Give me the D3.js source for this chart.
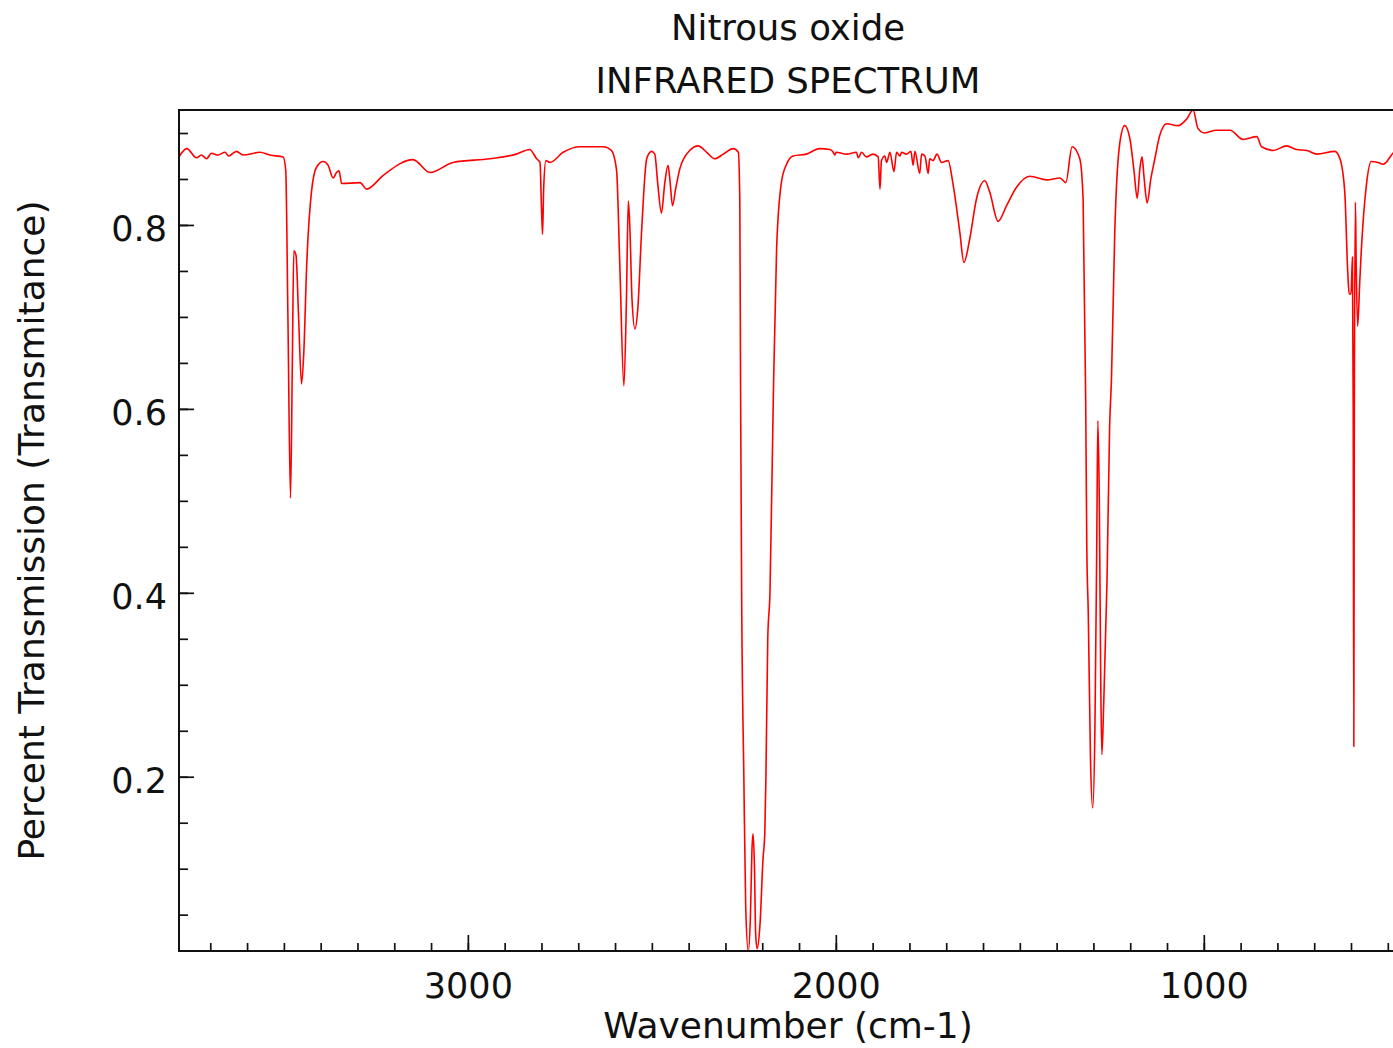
<!DOCTYPE html>
<html>
<head>
<meta charset="utf-8">
<script src="https://cdn.jsdelivr.net/npm/d3@7"></script>
<style>
  body { margin: 0; background: #fff; }
  svg { display: block; font-family: "DejaVu Sans", sans-serif; }
</style>
</head>
<body>
<svg id="svg" width="1393" height="1048"></svg>
<script>
// spectrum (wavenumber cm-1, transmittance)
const wavenumber = [
  3785, 3764, 3737, 3724, 3710, 3697, 3679, 3660, 3650, 3629, 3611, 3565, 3538, 3502,
  3495, 3489, 3482, 3477, 3473, 3467, 3460, 3452, 3446, 3438, 3425, 3411, 3393, 3380,
  3366, 3357, 3350, 3343, 3293, 3275, 3230, 3149, 3103, 3040, 2940, 2868, 2832, 2813,
  2804, 2800, 2797, 2794, 2788, 2777, 2741, 2696, 2632, 2610, 2596, 2587, 2576, 2569,
  2564, 2560, 2554, 2546, 2538, 2528, 2514, 2501, 2492, 2484, 2474, 2465, 2456, 2450,
  2444, 2435, 2424, 2397, 2374, 2351, 2329, 2306, 2279, 2265, 2261, 2259, 2256, 2250,
  2245, 2238, 2232, 2228, 2225, 2221, 2218, 2214, 2206, 2198, 2193, 2190, 2185, 2179,
  2170, 2161, 2148, 2134, 2116, 2080, 2044, 2016, 2007, 2003, 1999, 1971, 1944, 1939,
  1930, 1917, 1899, 1885, 1880, 1876, 1867, 1862, 1853, 1842, 1835, 1826, 1821, 1808,
  1796, 1790, 1785, 1772, 1767, 1758, 1749, 1745, 1736, 1725, 1713, 1695, 1681, 1663,
  1652, 1636, 1618, 1595, 1582, 1559, 1536, 1509, 1473, 1427, 1391, 1375, 1358, 1337,
  1328, 1321, 1318, 1314, 1308, 1302, 1296, 1291, 1288, 1284, 1280, 1277, 1272, 1263,
  1256, 1251, 1242, 1228, 1215, 1201, 1190, 1181, 1174, 1168, 1162, 1154, 1144, 1133,
  1120, 1101, 1070, 1047, 1029, 1016, 998, 966, 929, 893, 856, 843, 811, 775,
  748, 720, 693, 644, 630, 617, 609, 605, 600, 596, 594, 592.3, 591, 588,
  586, 582, 576, 572, 558, 545, 527, 513, 486, 476
];
const transmittance = [
  0.874, 0.883, 0.873, 0.876, 0.872, 0.878, 0.876, 0.879, 0.875, 0.880, 0.876, 0.879, 0.876, 0.874,
  0.860, 0.700, 0.503, 0.650, 0.772, 0.767, 0.700, 0.627, 0.660, 0.756, 0.836, 0.863, 0.869, 0.865,
  0.851, 0.857, 0.859, 0.845, 0.846, 0.839, 0.854, 0.871, 0.857, 0.868, 0.872, 0.877, 0.882, 0.872,
  0.868, 0.820, 0.790, 0.840, 0.870, 0.868, 0.879, 0.885, 0.885, 0.881, 0.860, 0.756, 0.625, 0.720,
  0.826, 0.800, 0.720, 0.687, 0.710, 0.792, 0.872, 0.880, 0.877, 0.845, 0.813, 0.845, 0.865, 0.845,
  0.821, 0.840, 0.861, 0.881, 0.886, 0.879, 0.872, 0.877, 0.883, 0.879, 0.828, 0.632, 0.400, 0.200,
  0.060, 0.0105, 0.050, 0.120, 0.138, 0.100, 0.030, 0.013, 0.040, 0.110, 0.140, 0.200, 0.350, 0.400,
  0.610, 0.774, 0.846, 0.866, 0.875, 0.877, 0.883, 0.882, 0.879, 0.876, 0.879, 0.877, 0.879, 0.873,
  0.879, 0.874, 0.877, 0.874, 0.839, 0.870, 0.875, 0.868, 0.879, 0.858, 0.879, 0.875, 0.879, 0.877,
  0.880, 0.865, 0.880, 0.856, 0.877, 0.875, 0.856, 0.872, 0.870, 0.877, 0.868, 0.870, 0.843, 0.792,
  0.759, 0.785, 0.828, 0.848, 0.836, 0.804, 0.821, 0.841, 0.853, 0.849, 0.851, 0.846, 0.885, 0.872,
  0.828, 0.610, 0.450, 0.378, 0.220, 0.166, 0.250, 0.450, 0.587, 0.500, 0.300, 0.224, 0.280, 0.414,
  0.580, 0.632, 0.792, 0.890, 0.908, 0.894, 0.860, 0.829, 0.860, 0.874, 0.850, 0.824, 0.850, 0.872,
  0.897, 0.910, 0.908, 0.915, 0.925, 0.905, 0.900, 0.903, 0.903, 0.893, 0.896, 0.885, 0.881, 0.886,
  0.882, 0.881, 0.877, 0.880, 0.872, 0.836, 0.750, 0.725, 0.725, 0.765, 0.600, 0.233, 0.600, 0.825,
  0.760, 0.690, 0.740, 0.772, 0.844, 0.869, 0.868, 0.866, 0.878, 0.882
];
const xMajorTicks = [3000, 2000, 1000];
const xMinorTicks = d3.range(3700, 400, -100);
const yMajorTicks = [0.2, 0.4, 0.6, 0.8];
const yMinorTicks = d3.range(1, 19).map(i => i * 0.05);

const titleLines = ["Nitrous oxide", "INFRARED SPECTRUM"];
const xTitle = "Wavenumber (cm-1)";
const yTitle = "Percent Transmission (Transmitance)";

const plotLeft = 179, plotRight = 1397, plotTop = 110, plotBottom = 951;

const svg = d3.select("#svg");
const x = d3.scaleLinear([3785, 475], [plotLeft, plotRight]);
const y = d3.scaleLinear([0.0105, 0.925], [plotBottom, plotTop]);

const points = wavenumber.map((w, i) => [w, transmittance[i]]);
const line = d3.line().x(d => x(d[0])).y(d => y(d[1])).curve(d3.curveMonotoneX);

svg.append("rect").attr("width", 1393).attr("height", 1048).attr("fill", "#fff");

svg.append("path")
  .datum(points)
  .attr("d", line)
  .attr("fill", "none")
  .attr("stroke", "#ff0000")
  .attr("stroke-width", 1.6)
  .attr("stroke-linejoin", "round");

// minor ticks
svg.append("g").attr("transform", `translate(0,${plotBottom})`)
  .call(d3.axisBottom(x).tickValues(xMinorTicks).tickSize(-8).tickFormat(""))
  .call(g => g.select(".domain").remove());
svg.append("g").attr("transform", `translate(${plotLeft},0)`)
  .call(d3.axisLeft(y).tickValues(yMinorTicks).tickSize(-9).tickFormat(""))
  .call(g => g.select(".domain").remove());

// major ticks + labels
svg.append("g").attr("transform", `translate(0,${plotBottom})`)
  .call(d3.axisBottom(x).tickValues(xMajorTicks).tickSize(-16).tickPadding(22).tickFormat(d3.format("d")))
  .call(g => g.select(".domain").remove());
const yAxis = svg.append("g").attr("transform", `translate(${plotLeft},0)`)
  .call(d3.axisLeft(y).tickValues(yMajorTicks).tickSize(-15).tickPadding(12).tickFormat(d3.format(".1f")))
  .call(g => g.select(".domain").remove());

svg.selectAll(".tick line").attr("stroke", "#111").attr("stroke-width", 1.7);
svg.selectAll(".tick text").attr("font-family", "DejaVu Sans").attr("font-size", 35).attr("fill", "#111");
yAxis.selectAll(".tick text").attr("dy", "0.45em");

svg.append("rect")
  .attr("x", plotLeft).attr("y", plotTop)
  .attr("width", plotRight - plotLeft).attr("height", plotBottom - plotTop)
  .attr("fill", "none").attr("stroke", "#111").attr("stroke-width", 2);

svg.selectAll("text.title").data(titleLines).join("text")
  .attr("class", "title")
  .attr("x", (plotLeft + plotRight) / 2)
  .attr("y", (_, i) => [40, 93][i])
  .attr("text-anchor", "middle")
  .attr("font-size", 35.5)
  .attr("fill", "#111")
  .text(d => d);

svg.append("text")
  .attr("x", (plotLeft + plotRight) / 2).attr("y", 1038)
  .attr("text-anchor", "middle").attr("font-size", 36).attr("fill", "#111")
  .text(xTitle);

svg.append("text")
  .attr("transform", `translate(44,${(plotTop + plotBottom) / 2}) rotate(-90)`)
  .attr("text-anchor", "middle").attr("font-size", 36).attr("fill", "#111")
  .text(yTitle);
</script>
</body>
</html>
